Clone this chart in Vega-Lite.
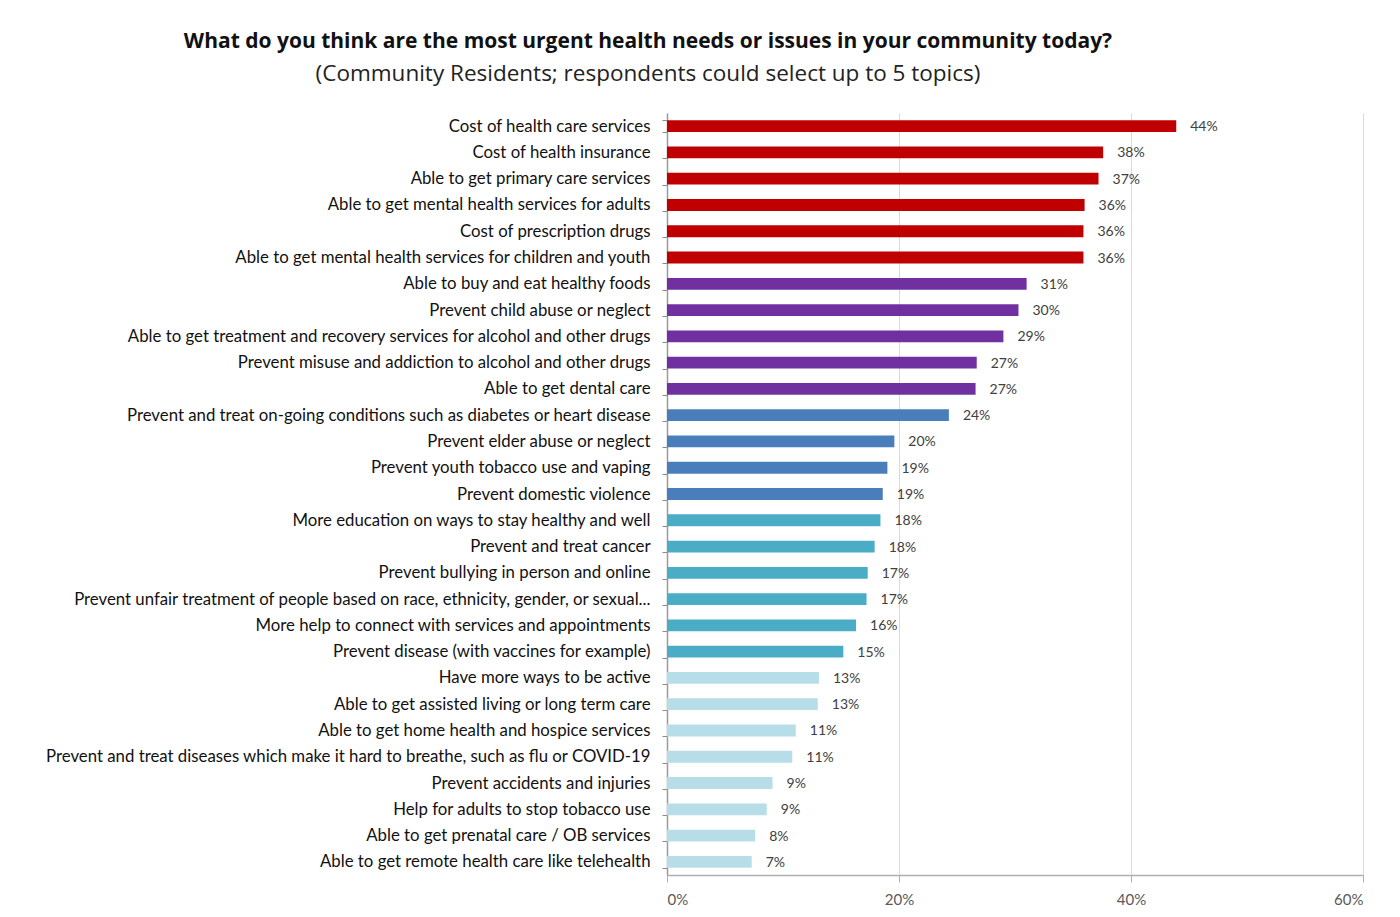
{
  "$schema": "https://vega.github.io/schema/vega-lite/v6.json",
  "autosize": "none",
  "width": 696,
  "height": 762,
  "padding": {"left": 667, "top": 113, "right": 37, "bottom": 42},
  "background": "white",
  "title": {
    "text": "What do you think are the most urgent health needs or issues in your community today?",
    "subtitle": "(Community Residents; respondents could select up to 5 topics)",
    "anchor": "middle",
    "frame": "group",
    "dx": -367,
    "offset": 20,
    "font": "Open Sans",
    "fontSize": 21,
    "fontWeight": "bold",
    "color": "#111111",
    "subtitleFont": "Open Sans",
    "subtitleFontSize": 22.5,
    "subtitleColor": "#222222",
    "subtitlePadding": 11
  },
  "data": {
    "values": [
      {"topic": "Cost of health care services", "pct": 0.439, "group": "g1"},
      {"topic": "Cost of health insurance", "pct": 0.376, "group": "g1"},
      {"topic": "Able to get primary care services", "pct": 0.372, "group": "g1"},
      {"topic": "Able to get mental health services for adults", "pct": 0.360, "group": "g1"},
      {"topic": "Cost of prescription drugs", "pct": 0.359, "group": "g1"},
      {"topic": "Able to get mental health services for children and youth", "pct": 0.359, "group": "g1"},
      {"topic": "Able to buy and eat healthy foods", "pct": 0.310, "group": "g2"},
      {"topic": "Prevent child abuse or neglect", "pct": 0.303, "group": "g2"},
      {"topic": "Able to get treatment and recovery services for alcohol and other drugs", "pct": 0.290, "group": "g2"},
      {"topic": "Prevent misuse and addiction to alcohol and other drugs", "pct": 0.267, "group": "g2"},
      {"topic": "Able to get dental care", "pct": 0.266, "group": "g2"},
      {"topic": "Prevent and treat on-going conditions such as diabetes or heart disease", "pct": 0.243, "group": "g3"},
      {"topic": "Prevent elder abuse or neglect", "pct": 0.196, "group": "g3"},
      {"topic": "Prevent youth tobacco use and vaping", "pct": 0.190, "group": "g3"},
      {"topic": "Prevent domestic violence", "pct": 0.186, "group": "g3"},
      {"topic": "More education on ways to stay healthy and well", "pct": 0.184, "group": "g4"},
      {"topic": "Prevent and treat cancer", "pct": 0.179, "group": "g4"},
      {"topic": "Prevent bullying in person and online", "pct": 0.173, "group": "g4"},
      {"topic": "Prevent unfair treatment of people based on race, ethnicity, gender, or sexual...", "pct": 0.172, "group": "g4"},
      {"topic": "More help to connect with services and appointments", "pct": 0.163, "group": "g4"},
      {"topic": "Prevent disease (with vaccines for example)", "pct": 0.152, "group": "g4"},
      {"topic": "Have more ways to be active", "pct": 0.131, "group": "g5"},
      {"topic": "Able to get assisted living or long term care", "pct": 0.130, "group": "g5"},
      {"topic": "Able to get home health and hospice services", "pct": 0.111, "group": "g5"},
      {"topic": "Prevent and treat diseases which make it hard to breathe, such as flu or COVID-19", "pct": 0.108, "group": "g5"},
      {"topic": "Prevent accidents and injuries", "pct": 0.091, "group": "g5"},
      {"topic": "Help for adults to stop tobacco use", "pct": 0.086, "group": "g5"},
      {"topic": "Able to get prenatal care / OB services", "pct": 0.076, "group": "g5"},
      {"topic": "Able to get remote health care like telehealth", "pct": 0.073, "group": "g5"}
    ]
  },
  "encoding": {
    "y": {
      "field": "topic",
      "type": "nominal",
      "sort": null,
      "title": null,
      "scale": {"paddingInner": 0.55, "paddingOuter": 0.275},
      "axis": {
        "labelFont": "Lato",
        "labelFontSize": 16.8,
        "labelColor": "#111111",
        "labelLimit": 700,
        "labelPadding": 12,
        "tickSize": 5,
        "tickBand": "extent",
        "tickColor": "#8a8a8a",
        "domainColor": "#9a9a9a",
        "domainWidth": 1.5
      }
    },
    "x": {
      "field": "pct",
      "type": "quantitative",
      "title": null,
      "scale": {"domain": [0, 0.6], "nice": false},
      "axis": {
        "values": [0, 0.2, 0.4, 0.6],
        "format": ".0%",
        "labelFont": "Lato",
        "labelFontSize": 15,
        "labelColor": "#595959",
        "labelPadding": 10,
        "tickSize": 7,
        "tickColor": "#b0b0b0",
        "domainColor": "#b0b0b0",
        "domainWidth": 1.5,
        "grid": true,
        "gridColor": "#d9d9d9",
        "gridWidth": 1
      }
    }
  },
  "layer": [
    {
      "mark": {"type": "bar", "stroke": null},
      "encoding": {
        "color": {
          "field": "group",
          "type": "nominal",
          "legend": null,
          "scale": {
            "domain": ["g1", "g2", "g3", "g4", "g5"],
            "range": ["#C00000", "#7030A0", "#4A7EBB", "#4BACC6", "#B7DEE8"]
          }
        }
      }
    },
    {
      "mark": {"type": "text", "align": "left", "dx": 14, "dy": 1, "font": "Lato", "fontSize": 14, "color": "#404040"},
      "encoding": {
        "text": {"field": "pct", "type": "quantitative", "format": ".0%"}
      }
    }
  ],
  "config": {
    "view": {"stroke": null}
  }
}
